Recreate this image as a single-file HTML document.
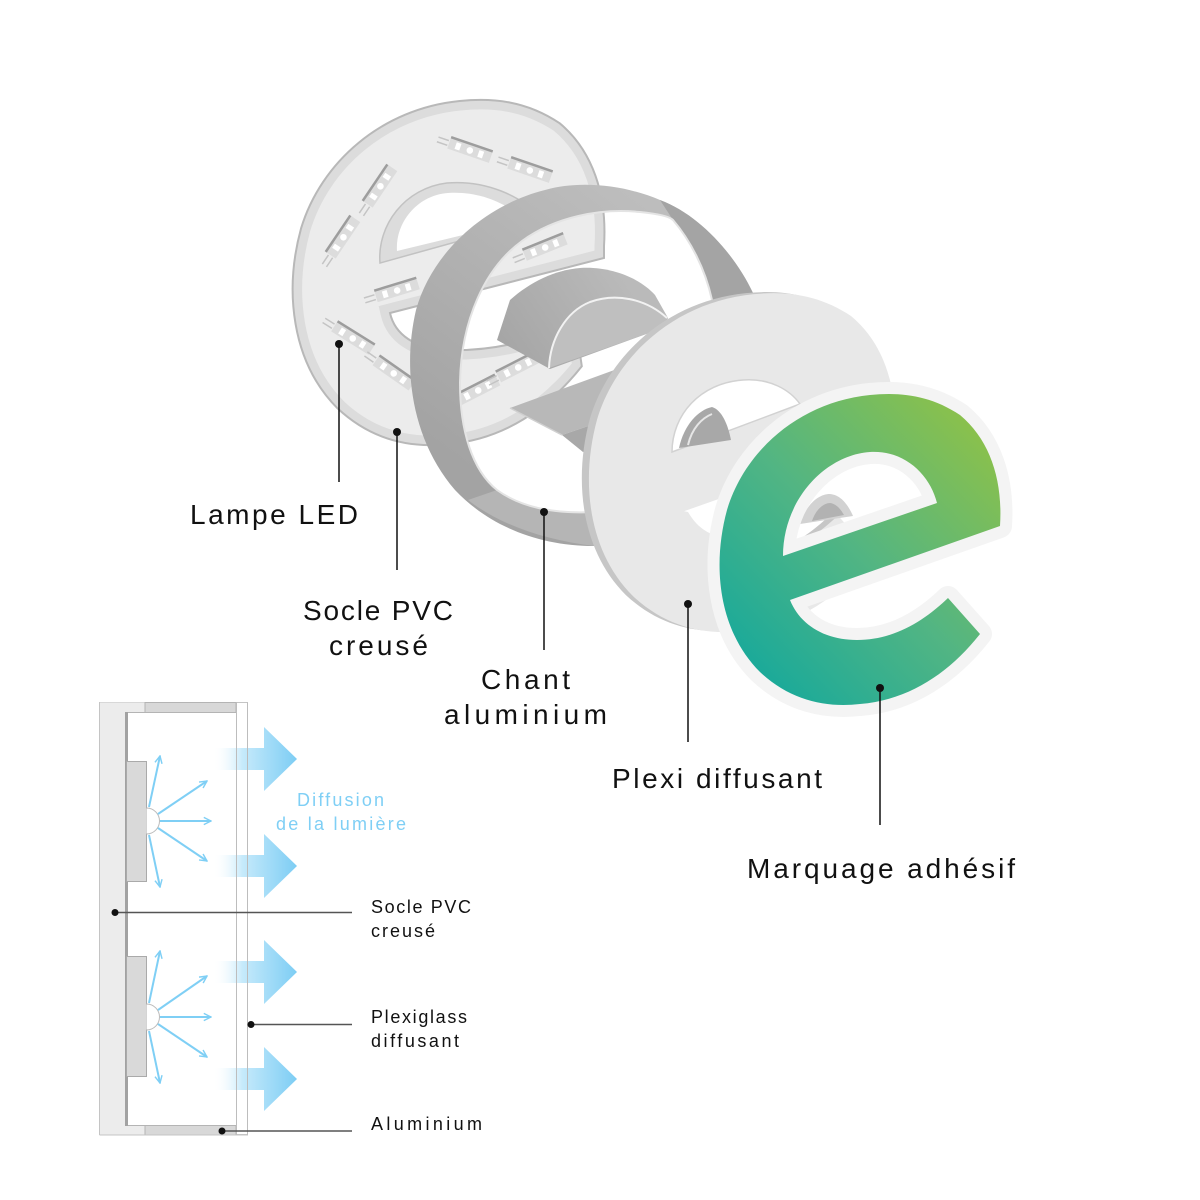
<!DOCTYPE html>
<html><head><meta charset="utf-8"><style>
html,body{margin:0;padding:0;background:#fff;}
svg{display:block;}
</style></head><body>
<svg width="1200" height="1200" viewBox="0 0 1200 1200" xmlns="http://www.w3.org/2000/svg" font-family="'Liberation Sans', sans-serif">
<defs>
  <linearGradient id="gg" gradientUnits="userSpaceOnUse" x1="740" y1="690" x2="1000" y2="440">
    <stop offset="0" stop-color="#12a89d"/>
    <stop offset="0.5" stop-color="#52b583"/>
    <stop offset="1" stop-color="#8dc149"/>
  </linearGradient>
  <linearGradient id="ringG" gradientUnits="userSpaceOnUse" x1="620" y1="185" x2="430" y2="440">
    <stop offset="0" stop-color="#bdbdbd"/>
    <stop offset="1" stop-color="#a3a3a3"/>
  </linearGradient>
  <linearGradient id="p1G" gradientUnits="userSpaceOnUse" x1="500" y1="350" x2="620" y2="270">
    <stop offset="0" stop-color="#a5a5a5"/>
    <stop offset="1" stop-color="#bababa"/>
  </linearGradient>
  <linearGradient id="arrG" gradientUnits="userSpaceOnUse" x1="213" y1="0" x2="297" y2="0">
    <stop offset="0" stop-color="#ffffff" stop-opacity="0"/>
    <stop offset="0.35" stop-color="#c6eafb"/>
    <stop offset="1" stop-color="#7dcdf4"/>
  </linearGradient>
  <clipPath id="socClip">
    <path d="M 604,258 L 604,246 C 607.3,195.3 592.9,150.9 559.6,123.2 C 526.3,101 493,97.6 459.7,101 C 382,108.7 321,162 301,228.6 C 284.3,289.7 291,361.8 337.6,408.4 C 370.9,439.5 409.8,448.4 448.6,444 C 504,439.5 548.5,408.4 581.8,366.2 L 575,320 C 545,337 500,352 445,350 C 415,348 395,335 390,313 Z"/>
  </clipPath>
  <marker id="ah" viewBox="0 0 10 10" refX="9" refY="5" markerWidth="9" markerHeight="9" markerUnits="userSpaceOnUse" orient="auto">
    <path d="M1,1 L9,5 L1,9" fill="none" stroke="#7fcff5" stroke-width="1.6"/>
  </marker>
  <g id="strip">
    <rect x="-22" y="-6" width="44" height="12" fill="#dcdcdc"/>
    <path d="M-22,-6 L22,-6" stroke="#9d9d9d" stroke-width="2.5"/>
    <rect x="-15" y="-3" width="5" height="7" fill="#fff"/>
    <circle cx="0" cy="0.5" r="3.3" fill="#fff"/>
    <rect x="9" y="-3" width="5" height="7" fill="#fff"/>
    <path d="M-23,-2 L-34,-2 M-23,3 L-34,3" stroke="#c4c4c4" stroke-width="1.5"/>
  </g>
</defs>

<rect width="1200" height="1200" fill="#fff"/>

<!-- ===== SOCLE PVC ===== -->
<g clip-path="url(#socClip)">
  <path fill="#ececec" stroke="#dcdcdc" stroke-width="19" d="M 604,258 L 604,246 C 607.3,195.3 592.9,150.9 559.6,123.2 C 526.3,101 493,97.6 459.7,101 C 382,108.7 321,162 301,228.6 C 284.3,289.7 291,361.8 337.6,408.4 C 370.9,439.5 409.8,448.4 448.6,444 C 504,439.5 548.5,408.4 581.8,366.2 L 575,320 C 545,337 500,352 445,350 C 415,348 395,335 390,313 Z"/>
</g>
<path fill="none" stroke="#b8b8b8" stroke-width="2" d="M 604,258 L 604,246 C 607.3,195.3 592.9,150.9 559.6,123.2 C 526.3,101 493,97.6 459.7,101 C 382,108.7 321,162 301,228.6 C 284.3,289.7 291,361.8 337.6,408.4 C 370.9,439.5 409.8,448.4 448.6,444 C 504,439.5 548.5,408.4 581.8,366.2 L 575,320 C 545,337 500,352 445,350 C 415,348 395,335 390,313 Z"/>
<!-- socle counter -->
<path d="M 380,263 C 377,225 405,188 447,183 C 485,180 520,195 542,218 Z" fill="#dcdcdc" stroke="#c2c2c2" stroke-width="1.5"/>
<path d="M 397,251 C 395,222 418,195 448,193 C 478,191 505,202 525,220 Z" fill="#ffffff"/>
<!-- LED strips -->
<use href="#strip" transform="translate(470,150) rotate(19)"/>
<use href="#strip" transform="translate(530,170) rotate(19)"/>
<use href="#strip" transform="translate(380,186) rotate(-56)"/>
<use href="#strip" transform="translate(343,237) rotate(-56)"/>
<use href="#strip" transform="translate(545,247) rotate(-22)"/>
<use href="#strip" transform="translate(397,290) rotate(-17)"/>
<use href="#strip" transform="translate(353,338) rotate(32)"/>
<use href="#strip" transform="translate(394,373) rotate(35)"/>
<use href="#strip" transform="translate(478,390) rotate(-27)"/>
<use href="#strip" transform="translate(518,367) rotate(-27)"/>

<!-- ===== inner wall pieces ===== -->
<path d="M 497,340 L 510,300 C 530,282 555,270 580,268 C 610,266 640,278 655,295 L 668,318 L 663,328 L 550,369 Z" fill="url(#p1G)"/>
<path d="M 549,368 C 550,340 565,312 590,302 C 615,293 645,298 667,318 L 663,328 Z" fill="#bfbfbf"/>
<path d="M 549,368 C 550,340 565,312 590,302 C 615,293 645,298 667,318" fill="none" stroke="#f2f2f2" stroke-width="2"/>
<path d="M 510,408 L 650,357 L 650,405 L 562,435 Z" fill="#b8b8b8"/>
<path d="M 562,435 L 650,405 L 650,425 L 583,452 Z" fill="#a8a8a8"/>
<path d="M 510,408 L 562,435" stroke="#d0d0d0" stroke-width="1.5"/>

<!-- ===== RING (chant aluminium) ===== -->
<path d="M 753,293 C 735,255 700,215 660,200 C 625,185 580,180 545,190 C 485,205 432,252 416,310 C 402,370 412,440 455,490 C 490,527 540,546 594,546 L 594,512 C 555,514 522,508 497,490 C 472,470 460,430 460,383 C 461,320 485,268 522,241 C 555,217 600,208 640,212 C 660,214 670,217 673,220 C 690,240 705,268 712,300 Z" fill="url(#ringG)"/>
<path d="M 660,200 C 700,215 735,255 753,293 L 712,300 C 705,268 690,240 673,220 Z" fill="#a4a4a4"/>
<path d="M 468,500 C 500,525 545,540 594,546 L 594,512 C 555,514 522,508 497,490 Z" fill="#b5b5b5"/>
<path d="M 594,512 C 555,514 522,508 497,490 C 472,470 460,430 460,383 C 461,320 485,268 522,241 C 555,217 600,208 640,212 C 660,214 670,217 673,220 C 690,240 705,268 712,300" fill="none" stroke="#e4e4e4" stroke-width="2"/>

<!-- ===== PLEXI ===== -->
<g transform="translate(742,461) scale(1.09) translate(-860,-548)">
  <path transform="translate(-6.5,-1)" fill="#c6c6c6" d="M 1000,526 C 1003,480 990,440 960,415 C 930,395 900,392 870,395 C 800,402 745,450 727,510 C 712,565 718,630 760,672 C 790,700 825,708 860,704 C 910,700 950,672 980,634 L 948,598 C 925,620 895,640 857,640 C 825,640 800,625 790,600 Z"/>
  <path fill="#e8e8e8" d="M 1000,526 C 1003,480 990,440 960,415 C 930,395 900,392 870,395 C 800,402 745,450 727,510 C 712,565 718,630 760,672 C 790,700 825,708 860,704 C 910,700 950,672 980,634 L 948,598 C 925,620 895,640 857,640 C 825,640 800,625 790,600 Z"/>
</g>
<!-- reduce plexi notch to a sliver -->
<path d="M 655,505 L 688,512 C 697,527 707,534 722,537 L 725,585 L 650,585 Z" fill="#e8e8e8"/>
<path d="M 672,452 C 672,415 700,383 743,380 C 770,378 790,390 800,404 Z" fill="#fff" stroke="#d2d2d2" stroke-width="1.5"/>
<path d="M 679,448 C 684,425 698,410 712,407 C 722,410 728,425 731,440 Z" fill="#a8a8a8"/>
<path d="M 688,445 C 692,428 702,418 712,414" fill="none" stroke="#e6e6e6" stroke-width="2"/>

<!-- gray bump behind green counter -->
<path d="M 800,524 C 806,505 818,494 830,494 C 842,495 849,507 853,516 Z" fill="#d2d2d2"/>
<path d="M 812,521 C 816,509 824,503 830,503 C 837,504 841,510 844,515 Z" fill="#b2b2b2"/>

<!-- ===== GREEN E ===== -->
<path fill-rule="evenodd" fill="url(#gg)" stroke="#f4f4f4" stroke-width="24" stroke-linejoin="round" paint-order="stroke" d="M 1000,526 C 1003,480 990,440 960,415 C 930,395 900,392 870,395 C 800,402 745,450 727,510 C 712,565 718,630 760,672 C 790,700 825,708 860,704 C 910,700 950,672 980,634 L 948,598 C 925,620 895,640 857,640 C 825,640 800,625 790,600 Z M 783,556 C 783,500 825,455 870,452 C 905,450 930,475 937,503 Z"/>

<!-- ===== leader lines main ===== -->
<g stroke="#111" stroke-width="1.5">
  <line x1="339" y1="344" x2="339" y2="482"/>
  <line x1="397" y1="432" x2="397" y2="570"/>
  <line x1="544" y1="512" x2="544" y2="650"/>
  <line x1="688" y1="604" x2="688" y2="742"/>
  <line x1="880" y1="688" x2="880" y2="825"/>
</g>
<g fill="#111">
  <circle cx="339" cy="344" r="4"/>
  <circle cx="397" cy="432" r="4"/>
  <circle cx="544" cy="512" r="4"/>
  <circle cx="688" cy="604" r="4"/>
  <circle cx="880" cy="688" r="4"/>
</g>
<g fill="#111" font-size="28">
  <text x="190" y="524" textLength="168" lengthAdjust="spacing">Lampe LED</text>
  <text x="303" y="620" textLength="150" lengthAdjust="spacing">Socle PVC</text>
  <text x="329" y="655" textLength="99" lengthAdjust="spacing">creusé</text>
  <text x="481" y="689" textLength="89" lengthAdjust="spacing">Chant</text>
  <text x="444" y="724" textLength="163" lengthAdjust="spacing">aluminium</text>
  <text x="612" y="788" textLength="210" lengthAdjust="spacing">Plexi diffusant</text>
  <text x="747" y="878" textLength="268" lengthAdjust="spacing">Marquage adhésif</text>
</g>

<!-- ===== CROSS SECTION ===== -->
<g>
  <rect x="99.5" y="702.5" width="148" height="432" fill="#fff" stroke="#c4c4c4" stroke-width="1"/>
  <rect x="99.5" y="702.5" width="26" height="432" fill="#ececec"/>
  <rect x="99.5" y="702.5" width="46" height="10" fill="#ececec"/>
  <rect x="99.5" y="1125" width="46" height="10" fill="#ececec"/>
  <rect x="145" y="702.5" width="91" height="10" fill="#d8d8d8" stroke="#b4b4b4" stroke-width="1"/>
  <rect x="145" y="1125.5" width="91" height="9.5" fill="#d8d8d8" stroke="#b4b4b4" stroke-width="1"/>
  <line x1="125" y1="712.5" x2="236" y2="712.5" stroke="#b4b4b4" stroke-width="1"/>
  <line x1="125" y1="1125.5" x2="145" y2="1125.5" stroke="#b4b4b4" stroke-width="1"/>
  <rect x="125" y="712" width="3" height="414" fill="#a2a2a2"/>
  <line x1="99.5" y1="702.5" x2="99.5" y2="1135" stroke="#c4c4c4"/>
  <line x1="99.5" y1="1135" x2="248" y2="1135" stroke="#c4c4c4"/>
  <!-- LED modules -->
  <rect x="126.5" y="761.5" width="20" height="120" fill="#d9d9d9" stroke="#aaaaaa" stroke-width="1"/>
  <rect x="126.5" y="956.5" width="20" height="120" fill="#d9d9d9" stroke="#aaaaaa" stroke-width="1"/>
  <path d="M 146.5,808 A 13,13 0 0 1 146.5,834" fill="#fff" stroke="#bbbbbb" stroke-width="1"/>
  <path d="M 146.5,1004 A 13,13 0 0 1 146.5,1030" fill="#fff" stroke="#bbbbbb" stroke-width="1"/>
  <!-- small arrows -->
  <g stroke="#7fcff5" stroke-width="2" fill="none" marker-end="url(#ah)">
    <line x1="149" y1="807" x2="160" y2="756"/>
    <line x1="158" y1="814" x2="207" y2="781"/>
    <line x1="160" y1="821" x2="211" y2="821"/>
    <line x1="158" y1="828" x2="207" y2="861"/>
    <line x1="149" y1="835" x2="160" y2="887"/>
    <line x1="149" y1="1003" x2="160" y2="951"/>
    <line x1="158" y1="1010" x2="207" y2="976"/>
    <line x1="160" y1="1017" x2="211" y2="1017"/>
    <line x1="158" y1="1024" x2="207" y2="1057"/>
    <line x1="149" y1="1031" x2="160" y2="1083"/>
  </g>
  <!-- big arrows -->
  <g fill="url(#arrG)">
    <path d="M 213,748 L 264,748 L 264,727 L 297,759 L 264,791 L 264,770 L 213,770 Z"/>
    <path d="M 213,855 L 264,855 L 264,834 L 297,866 L 264,898 L 264,877 L 213,877 Z"/>
    <path d="M 213,961 L 264,961 L 264,940 L 297,972 L 264,1004 L 264,983 L 213,983 Z"/>
    <path d="M 213,1068 L 264,1068 L 264,1047 L 297,1079 L 264,1111 L 264,1090 L 213,1090 Z"/>
  </g>
  <!-- plexi lines -->
  <line x1="236.5" y1="702.5" x2="236.5" y2="1135" stroke="#bdbdbd" stroke-width="1"/>
  <line x1="247.5" y1="702.5" x2="247.5" y2="1135" stroke="#bdbdbd" stroke-width="1"/>
  <!-- leaders -->
  <g stroke="#555" stroke-width="1.4">
    <line x1="115" y1="912.5" x2="352" y2="912.5"/>
    <line x1="250" y1="1024.5" x2="352" y2="1024.5"/>
    <line x1="222" y1="1131" x2="352" y2="1131"/>
  </g>
  <g fill="#111">
    <circle cx="115" cy="912.5" r="3.5"/>
    <circle cx="251" cy="1024.5" r="3.5"/>
    <circle cx="222" cy="1131" r="3.5"/>
  </g>
  <g fill="#7fcff5" font-size="18">
    <text x="297" y="806" textLength="87" lengthAdjust="spacing">Diffusion</text>
    <text x="276" y="830" textLength="130" lengthAdjust="spacing">de la lumière</text>
  </g>
  <g fill="#111" font-size="18">
    <text x="371" y="913" textLength="100" lengthAdjust="spacing">Socle PVC</text>
    <text x="371" y="937" textLength="64" lengthAdjust="spacing">creusé</text>
    <text x="371" y="1023" textLength="96" lengthAdjust="spacing">Plexiglass</text>
    <text x="371" y="1047" textLength="88" lengthAdjust="spacing">diffusant</text>
    <text x="371" y="1130" textLength="111" lengthAdjust="spacing">Aluminium</text>
  </g>
</g>
</svg>
</body></html>
